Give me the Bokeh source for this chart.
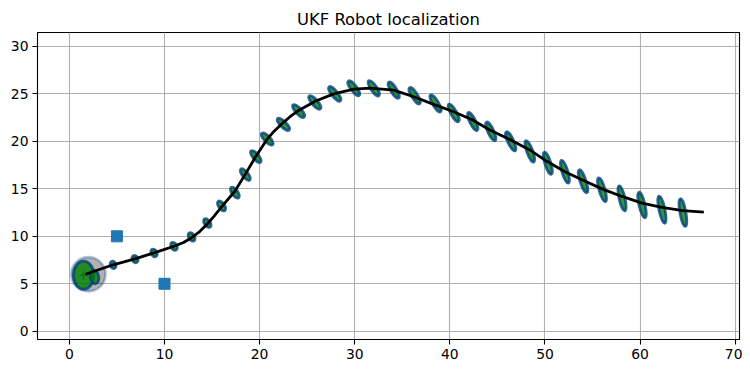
from bokeh.plotting import figure
from bokeh.models import Range1d, FixedTicker, ColumnDataSource
from bokeh.embed import file_html
from bokeh.resources import INLINE

# True robot track
track_x = [1.7, 3.0, 4.6, 6.8, 8.9, 11.0, 12.0, 12.85, 13.7, 14.5, 15.2, 16.0, 17.4,
           18.5, 19.6, 20.7, 21.5, 22.4, 23.2, 24.0, 25.9, 27.8, 29.9, 31.6, 34.1,
           36.2, 38.3, 40.2, 42.3, 44.2, 46.3, 48.4, 50.2, 52.1, 54.0, 56.0, 58.1,
           60.2, 62.3, 64.5, 66.7]
track_y = [6.0, 6.45, 7.0, 7.6, 8.25, 8.95, 9.35, 9.85, 10.5, 11.3, 12.1, 13.1, 14.75,
           16.55, 18.4, 20.1, 21.05, 21.9, 22.6, 23.2, 24.25, 25.0, 25.5, 25.6, 25.4,
           24.7, 23.9, 23.2, 22.3, 21.2, 20.2, 19.1, 17.9, 16.8, 15.9, 15.0, 14.2,
           13.5, 13.05, 12.7, 12.55]

# Landmarks
landmark_x = [5, 10]
landmark_y = [10, 5]

# Initial prior covariance ellipse
prior_x = [2.0]
prior_y = [6.0]
prior_major = [3.6]
prior_minor = [3.6]
prior_angle = [0]

# Posterior covariance ellipses (center, axis lengths, angle in degrees)
ell_x = [1.5, 2.65, 4.6, 6.9, 8.9, 11.0, 12.85, 14.5, 16.0, 17.4, 18.5, 19.6, 20.8,
         22.5, 24.1, 25.8, 27.9, 29.9, 32.0, 34.1, 36.3, 38.5, 40.4, 42.4, 44.3,
         46.4, 48.4, 50.3, 52.1, 54.0, 56.0, 58.1, 60.2, 62.3, 64.5]
ell_y = [5.9, 5.7, 7.0, 7.6, 8.25, 8.95, 9.94, 11.4, 13.2, 14.6, 16.5, 18.4, 20.25,
         21.8, 23.2, 24.1, 25.0, 25.6, 25.6, 25.4, 24.8, 24.0, 23.0, 22.1, 21.05,
         20.0, 18.95, 17.7, 16.8, 15.8, 14.9, 14.0, 13.3, 12.8, 12.5]
ell_major = [2.95, 1.4, 0.8, 0.8, 0.85, 0.9, 0.95, 1.05, 1.2, 1.35, 1.5, 1.55, 1.65,
             1.7, 1.75, 1.8, 1.9, 1.9, 1.9, 1.95, 2.0, 2.05, 2.1, 2.1, 2.15,
             2.2, 2.4, 2.45, 2.5, 2.55, 2.6, 2.7, 2.75, 2.9, 2.95]
ell_minor = [2.15, 0.9, 0.6, 0.6, 0.6, 0.6, 0.6, 0.6, 0.62, 0.62, 0.62, 0.62, 0.62,
             0.62, 0.62, 0.62, 0.62, 0.62, 0.62, 0.62, 0.62, 0.62, 0.62, 0.62, 0.62,
             0.62, 0.62, 0.62, 0.62, 0.62, 0.62, 0.62, 0.62, 0.62, 0.62]
ell_angle = [90, 100, 110, 115, 118, 120, 122, 125, 126, 126, 129, 130, 134,
             136, 133, 131, 129, 127, 124, 122, 122, 121, 119, 116, 115,
             115, 110, 107, 107, 108, 106, 103, 103, 102, 100]

start_x = [1.5]
start_y = [5.9]

x_ticks = [0, 10, 20, 30, 40, 50, 60, 70]
y_ticks = [0, 5, 10, 15, 20, 25, 30]

p = figure(frame_width=702, frame_height=307,
           x_range=Range1d(-3.35, 70.45), y_range=Range1d(-0.87, 31.47),
           output_backend="svg", toolbar_location=None,
           title="UKF Robot localization",
           min_border_left=37, min_border_right=3, min_border_top=32, min_border_bottom=0)

p.title.text_font = "DejaVu Sans"
p.title.text_font_size = "16.4px"
p.title.text_font_style = "normal"
p.title.align = "center"
p.title.text_color = "black"
p.title.standoff = 8

p.outline_line_color = "black"
p.outline_line_width = 1.1
p.background_fill_color = "white"
p.border_fill_color = "white"

for ax in (p.xaxis, p.yaxis):
    ax.axis_line_color = None
    ax.major_tick_out = 5
    ax.major_tick_in = 0
    ax.minor_tick_line_color = None
    ax.major_tick_line_color = "black"
    ax.major_tick_line_width = 1.1
    ax.major_label_text_font = "DejaVu Sans"
    ax.major_label_text_font_size = "13.9px"
    ax.major_label_text_color = "black"
    ax.major_label_standoff = 4

p.xaxis.ticker = FixedTicker(ticks=x_ticks)
p.yaxis.ticker = FixedTicker(ticks=y_ticks)

p.grid.grid_line_color = "#b0b0b0"
p.grid.grid_line_width = 1.1

# landmarks
p.scatter(landmark_x, landmark_y, marker="square", size=11,
          fill_color="#1f77b4", line_color="#1f77b4")

# prior ellipse
p.ellipse(x=prior_x, y=prior_y, width=prior_major, height=prior_minor,
          angle=prior_angle, angle_units="deg",
          fill_color="black", fill_alpha=0.3,
          line_color="#004080", line_alpha=0.3, line_width=2.8)

# start marker (under the posterior ellipse)
p.scatter(start_x, start_y, marker="cross", size=8, line_color="#004080", line_width=1.4)

# posterior ellipses
src = ColumnDataSource(dict(x=ell_x, y=ell_y, w=ell_major, h=ell_minor, a=ell_angle))
p.ellipse(x="x", y="y", width="w", height="h", angle="a", angle_units="deg",
          source=src, fill_color="#008000", fill_alpha=0.8,
          line_color="#004080", line_alpha=0.8, line_width=2.8)

# true track
p.line(track_x, track_y, line_color="black", line_width=2.8)

open("out.html", "w").write(file_html(p, INLINE))
